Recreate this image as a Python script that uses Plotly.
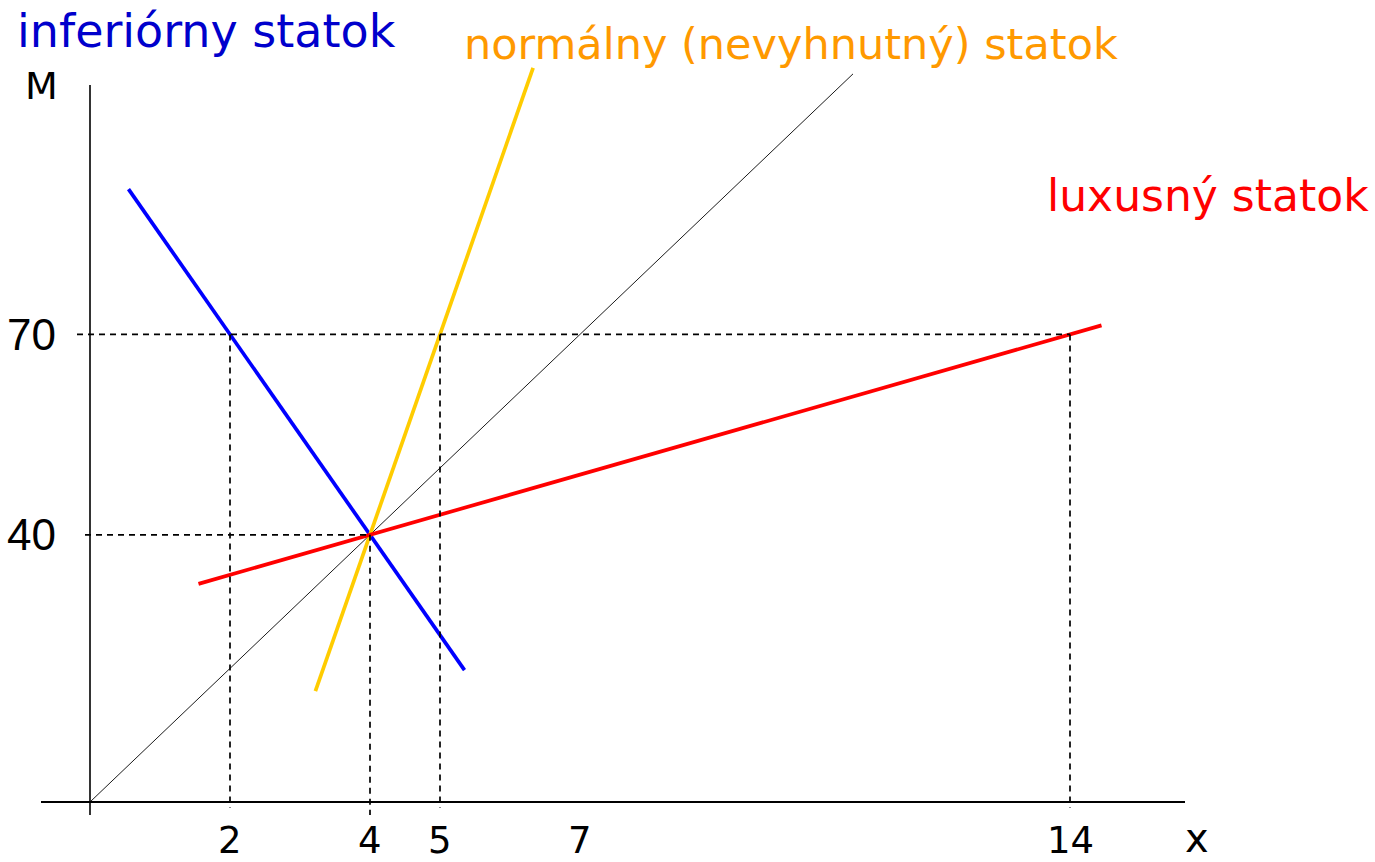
import plotly.graph_objects as go

# ---------------- data ----------------
x_tick_values = [2, 4, 5, 7, 14]
x_tick_labels = ["2", "4", "5", "7", "14"]
m_tick_values = [70, 40]
m_tick_labels = ["70", "40"]

# Engel curves: quantity x against income M
inferior_x = [0.55, 2, 4, 5.35]
inferior_m = [91.75, 70, 40, 19.75]
normal_x = [3.22, 4, 5, 6.33]
normal_m = [16.6, 40, 70, 109.9]
luxury_x = [1.55, 4, 14, 14.45]
luxury_m = [32.65, 40, 70, 71.35]
diagonal_x = [0, 4, 7, 10.9]
diagonal_m = [0, 40, 70, 109]

# points where the dashed guide lines meet the curves
guide_x = [2, 4, 5, 14]
guide_m = [70, 40, 70, 70]

# ---------------- layout constants ----------------
W, H = 1375, 862
KX, KY = 70.0, 6.68          # px per unit
OX, OY = 90, 802             # pixel position of the origin
x_range = [-OX / KX, (W - OX) / KX]
y_range = [-(H - OY) / KY, OY / KY]

def px(v):
    return v / KX

def py(v):
    return v / KY

fig = go.Figure()

# axes (drawn as lines through the data scales)
fig.add_trace(go.Scatter(x=[px(41 - OX), px(1185 - OX)], y=[0, 0], mode="lines",
                         line=dict(color="black", width=2.2), hoverinfo="skip"))
fig.add_trace(go.Scatter(x=[0, 0], y=[-py(13), py(OY - 85)], mode="lines",
                         line=dict(color="black", width=1.6), hoverinfo="skip"))

# diagonal
fig.add_trace(go.Scatter(x=diagonal_x, y=diagonal_m, mode="lines",
                         line=dict(color="black", width=0.9), hoverinfo="skip"))
# curves
fig.add_trace(go.Scatter(x=inferior_x, y=inferior_m, mode="lines",
                         line=dict(color="#0000FF", width=3.7), name="inferiórny statok"))
fig.add_trace(go.Scatter(x=normal_x, y=normal_m, mode="lines",
                         line=dict(color="#FFCC00", width=3.7), name="normálny (nevyhnutný) statok"))
fig.add_trace(go.Scatter(x=luxury_x, y=luxury_m, mode="lines",
                         line=dict(color="#FF0000", width=3.7), name="luxusný statok"))

# dashed guide lines
gx, gy = [], []
left_ext = {70: px(-13), 40: px(-5)}
for m in sorted(set(guide_m)):
    xmax = max(x for x, mm in zip(guide_x, guide_m) if mm == m)
    gx += [left_ext.get(m, 0), xmax, None]
    gy += [m, m, None]
for x, m in zip(guide_x, guide_m):
    gx += [x, x, None]
    gy += [m, -py(6 if x != 4 else 13), None]
fig.add_trace(go.Scatter(x=gx, y=gy, mode="lines",
                         line=dict(color="black", width=1.7, dash="6px,5px"), hoverinfo="skip"))

comic = "Comic Sans MS, DejaVu Sans, sans-serif"
ann = []
for v, t in zip(x_tick_values, x_tick_labels):
    ann.append(dict(x=v, y=0, xref="x", yref="y", text=t, showarrow=False,
                    yshift=-38, xanchor="center", yanchor="middle",
                    font=dict(family=comic, size=37, color="black")))
for v, t in zip(m_tick_values, m_tick_labels):
    ann.append(dict(x=0, y=v, xref="x", yref="y", text=t, showarrow=False,
                    xshift=-32, xanchor="right", yanchor="middle",
                    font=dict(family="Liberation Sans, Arial, sans-serif", size=44, color="black")))

def pap(xp, yp):
    return xp / W, 1 - yp / H

for text, xp, yp, size, color in [
    ("inferiórny statok", 15, 31, 46, "#0000CC"),
    ("normálny (nevyhnutný) statok", 462, 44, 43, "#FF9900"),
    ("luxusný statok", 1045, 195, 44, "#FF0000"),
]:
    xx, yy = pap(xp, yp)
    ann.append(dict(x=xx, y=yy, xref="paper", yref="paper", text=text, showarrow=False,
                    xanchor="left", yanchor="middle",
                    font=dict(family=comic, size=size, color=color)))

xx, yy = pap(41, 86)
ann.append(dict(x=xx, y=yy, xref="paper", yref="paper", text="M", showarrow=False,
                xanchor="center", yanchor="middle", font=dict(family=comic, size=38, color="black")))
xx, yy = pap(1197, 838)
ann.append(dict(x=xx, y=yy, xref="paper", yref="paper", text="x", showarrow=False,
                xanchor="center", yanchor="middle", font=dict(family=comic, size=40, color="black")))

fig.update_layout(
    width=W, height=H,
    margin=dict(l=0, r=0, t=0, b=0),
    paper_bgcolor="white", plot_bgcolor="white",
    showlegend=False,
    xaxis=dict(range=x_range, visible=False, fixedrange=True),
    yaxis=dict(range=y_range, visible=False, fixedrange=True),
    annotations=ann,
)

fig.write_html("out.html", config={"displayModeBar": False},
               post_script="document.body.style.margin='0';document.body.style.overflow='hidden';")
